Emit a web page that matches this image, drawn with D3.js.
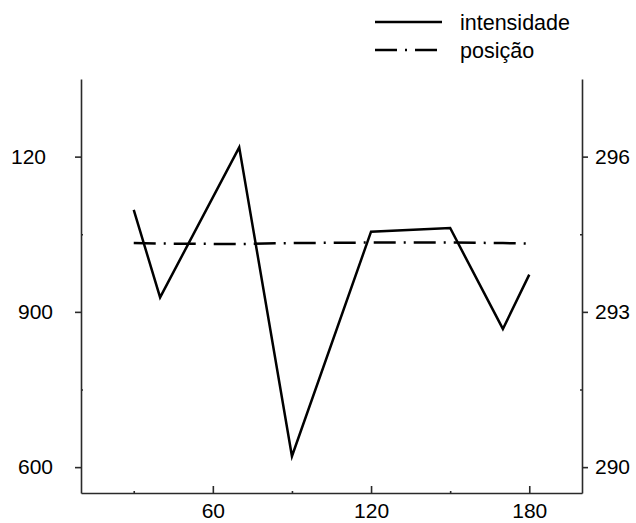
<!DOCTYPE html>
<html><head><meta charset="utf-8">
<script src="https://cdn.jsdelivr.net/npm/d3@7"></script>
<style>
body{margin:0;background:#fff;}
svg text{font-family:"Liberation Sans",Arial,sans-serif;fill:#000;}
</style></head>
<body><svg id="c" width="636" height="523"></svg>
<script>
const xValues = [30, 40, 70, 90, 120, 150, 170, 180];
const intensidade = [1097, 928, 1218, 621, 1055, 1062, 867, 972];
const posicao = [294.33, 294.32, 294.31, 294.33, 294.34, 294.34, 294.33, 294.32];
const xTicks = [60, 120, 180];
const xMinor = [30, 90, 150];
const leftTicks = [600, 900, 1200];
const leftTickLabels = ["600", "900", "120"];
const leftMinor = [750, 1050];
const rightTicks = [290, 293, 296];
const rightMinor = [291.5, 294.5];
const seriesNames = ["intensidade", "posição"];

const svg = d3.select("#c");
const L = 81, R = 582, T = 79, B = 493;
const x = d3.scaleLinear().domain([10, 200]).range([L, R]);
const yL = d3.scaleLinear().domain([550, 1350]).range([B, T]);
const yR = d3.scaleLinear().domain([289.5, 297.5]).range([B, T]);
const fs = 21;
const axisColor = "#2a2a2a";
const dashDot = "22,8,2,8";

function styleAxis(g){
  g.selectAll("path").attr("stroke", axisColor).attr("stroke-width", 1.6);
  g.selectAll("line").attr("stroke", axisColor).attr("stroke-width", 1.6);
  g.selectAll("text").attr("font-size", fs).attr("font-family", '"Liberation Sans",Arial,sans-serif').attr("fill", "#000");
}

// minor ticks
svg.append("g").attr("transform", `translate(0,${B})`)
  .call(d3.axisBottom(x).tickValues(xMinor).tickSize(-2).tickFormat(""))
  .call(g => g.select(".domain").remove()).call(styleAxis);
svg.append("g").attr("transform", `translate(${L},0)`)
  .call(d3.axisLeft(yL).tickValues(leftMinor).tickSize(-2).tickFormat(""))
  .call(g => g.select(".domain").remove()).call(styleAxis);
svg.append("g").attr("transform", `translate(${R},0)`)
  .call(d3.axisRight(yR).tickValues(rightMinor).tickSize(-2).tickFormat(""))
  .call(g => g.select(".domain").remove()).call(styleAxis);

// major axes
svg.append("g").attr("transform", `translate(0,${B})`)
  .call(d3.axisBottom(x).tickValues(xTicks).tickSize(-7).tickSizeOuter(0).tickPadding(10).tickFormat(d3.format("d")))
  .call(styleAxis);
const gl = svg.append("g").attr("transform", `translate(${L},0)`)
  .call(d3.axisLeft(yL).tickValues(leftTicks).tickSize(6).tickSizeOuter(0).tickPadding(22)
    .tickFormat((d, i) => leftTickLabels[i]))
  .call(styleAxis);
gl.selectAll(".tick text").filter(d => d === 1200).attr("dx", -7);
svg.append("g").attr("transform", `translate(${R},0)`)
  .call(d3.axisRight(yR).tickValues(rightTicks).tickSize(6).tickSizeOuter(0).tickPadding(7).tickFormat(d3.format("d")))
  .call(styleAxis);

// lines
const lineI = d3.line().x((d, i) => x(xValues[i])).y(d => yL(d));
const lineP = d3.line().x((d, i) => x(xValues[i])).y(d => yR(d));
svg.append("path").datum(intensidade).attr("d", lineI)
  .attr("fill", "none").attr("stroke", "#000").attr("stroke-width", 2.5).attr("stroke-linejoin", "miter");
svg.append("path").datum(posicao).attr("d", lineP)
  .attr("fill", "none").attr("stroke", "#000").attr("stroke-width", 2.5).attr("stroke-dasharray", dashDot);

// legend
const legend = svg.append("g");
const dashes = [null, dashDot];
const ly = [22, 50];
seriesNames.forEach((name, i) => {
  legend.append("line").attr("x1", 375).attr("x2", 442).attr("y1", ly[i]).attr("y2", ly[i])
    .attr("stroke", "#000").attr("stroke-width", 2.5).attr("stroke-dasharray", dashes[i]);
  legend.append("text").attr("x", 460).attr("y", ly[i]).attr("dy", "0.35em")
    .attr("font-size", 21.5).text(name);
});
</script></body></html>
